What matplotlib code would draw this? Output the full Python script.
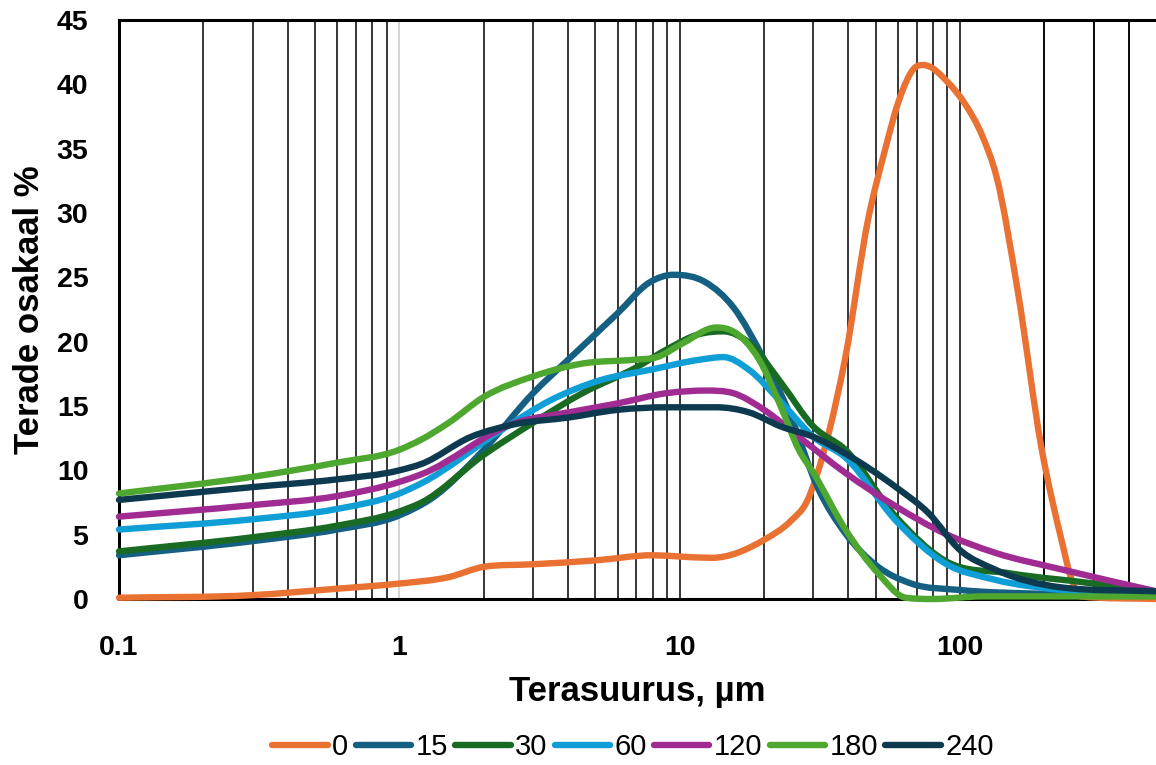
import numpy as np
import matplotlib
matplotlib.use("Agg")
import matplotlib.pyplot as plt
from matplotlib.path import Path
from matplotlib.patches import PathPatch
from matplotlib.lines import Line2D

plt.rcParams["font.family"] = ["Liberation Sans", "DejaVu Sans"]

# -----------------------------------------------------------------------------
# Data (size µm, share %)
# -----------------------------------------------------------------------------

labels = ["0", "15", "30", "60", "120", "180", "240"]
colors = ["#E97132", "#156082", "#196B24", "#0F9ED5", "#A02B93", "#4EA72E", "#0E3A50"]

x_0 = [0.1, 0.3, 0.6, 1, 1.5, 2, 3, 5, 8, 10, 13, 20, 25, 28.3, 34, 39, 47, 54, 60, 69, 74,
       91, 104, 120, 135, 161, 195, 230, 250, 270, 500]
y_0 = [0.1, 0.3, 0.8, 1.2, 1.7, 2.5, 2.7, 3.0, 3.4, 3.3, 3.2, 4.6, 6.1, 7.5, 12.9, 18.8, 29.5,
       34.9, 38.5, 41.3, 41.5, 40.1, 38.5, 36.0, 32.8, 23.8, 11.8, 4.6, 1.5, 0.2, 0.0]

x_15 = [0.1, 0.3, 0.6, 1, 1.3, 2, 3, 4, 6, 7.8, 9.5, 12.4, 15.5, 20, 25, 31, 39, 51, 67, 100, 200, 500]
y_15 = [3.4, 4.5, 5.4, 6.5, 7.8, 11.6, 16.0, 18.6, 22.2, 24.6, 25.2, 24.6, 22.7, 18.6, 14.1, 8.7,
        5.1, 2.5, 1.2, 0.7, 0.4, 0.3]

x_30 = [0.1, 0.3, 0.6, 1, 1.2, 2, 3, 4.5, 7, 9, 11.8, 14.3, 17.7, 23, 30, 39, 59, 88, 150, 300, 500]
y_30 = [3.7, 4.8, 5.7, 6.8, 7.5, 11.2, 13.7, 16.0, 18.0, 19.4, 20.6, 20.8, 19.9, 16.8, 13.4, 11.6,
        6.4, 3.0, 2.0, 1.2, 0.5]

x_60 = [0.1, 0.3, 0.6, 1, 1.2, 2.3, 3.5, 5.2, 7.8, 11.8, 14.3, 17.7, 23, 30, 39, 59, 88, 133, 230, 500]
y_60 = [5.4, 6.2, 7.0, 8.2, 9.0, 13.1, 15.5, 17.0, 17.8, 18.6, 18.8, 17.8, 15.3, 12.6, 11.0, 6.1,
        2.8, 1.5, 0.7, 0.3]

x_120 = [0.1, 0.3, 0.6, 1, 1.2, 2.6, 4, 6, 9, 12.4, 15.5, 20, 26.6, 39, 59, 88, 133, 230, 500]
y_120 = [6.4, 7.3, 8.0, 9.1, 9.7, 13.7, 14.5, 15.2, 16.0, 16.2, 16.0, 14.7, 12.6, 9.8, 7.2, 5.1,
         3.6, 2.3, 0.6]

x_180 = [0.1, 0.3, 0.6, 1, 1.2, 1.5, 2, 3, 4.5, 6.9, 8.3, 10.3, 13.5, 15.5, 19.2, 23, 26.6, 30,
         39, 51, 64, 80, 120, 500]
y_180 = [8.2, 9.5, 10.6, 11.6, 12.4, 13.7, 15.7, 17.3, 18.3, 18.6, 18.8, 19.9, 21.1, 20.8, 18.6,
         14.9, 11.6, 9.8, 5.4, 2.0, 0.1, 0.0, 0.2, 0.2]

x_240 = [0.1, 0.3, 0.6, 1, 1.2, 1.8, 2.6, 4, 6, 9, 13.5, 17.7, 23, 30, 39, 59, 77, 100, 133, 230, 500]
y_240 = [7.7, 8.7, 9.3, 10.0, 10.5, 12.6, 13.6, 14.1, 14.7, 14.9, 14.9, 14.5, 13.4, 12.6, 11.3,
         8.7, 6.7, 3.8, 2.3, 0.9, 0.6]

series_x = [x_0, x_15, x_30, x_60, x_120, x_180, x_240]
series_y = [y_0, y_15, y_30, y_60, y_120, y_180, y_240]


# -----------------------------------------------------------------------------

def smooth_path(xs, ys):
    # smoothed line through the read points: cubic Hermite segments in
    # log-x space (monotone limited), drawn as Bezier curves
    t = np.log10(np.asarray(xs, float))
    y = np.asarray(ys, float)
    n = len(t)
    h = np.diff(t)
    d = np.diff(y) / h
    m = np.zeros(n)
    m[0], m[-1] = d[0], d[-1]
    for i in range(1, n - 1):
        if d[i - 1] * d[i] <= 0:
            m[i] = 0.0
        else:
            m[i] = (d[i - 1] * h[i] + d[i] * h[i - 1]) / (h[i - 1] + h[i])
            lim = 3 * min(abs(d[i - 1]), abs(d[i]))
            m[i] = np.sign(m[i]) * min(abs(m[i]), lim)
    verts = [(t[0], y[0])]
    codes = [Path.MOVETO]
    for i in range(n - 1):
        verts += [(t[i] + h[i] / 3, y[i] + m[i] * h[i] / 3),
                  (t[i + 1] - h[i] / 3, y[i + 1] - m[i + 1] * h[i] / 3),
                  (t[i + 1], y[i + 1])]
        codes += [Path.CURVE4] * 3
    verts = np.array(verts)
    verts[:, 0] = 10 ** verts[:, 0]
    return Path(verts, codes)


fig = plt.figure(figsize=(11.56, 7.65), dpi=100)
ax = fig.add_axes([119 / 1156, 1 - 599 / 765, 1 - 119 / 1156, (599 - 20) / 765])

ax.set_xscale("log")
ax.set_xlim(0.1, 500)
ax.set_ylim(0, 45)

# vertical grid: black at minor positions, light grey at 1
grid_x = [m * 10.0 ** e for e in range(-1, 3) for m in range(1, 10)]
grid_x += [200, 300, 400]
for gx in grid_x:
    if gx <= 0.1 or gx >= 500:
        continue
    col = "#C8C8C8" if abs(gx - 1) < 1e-9 else "black"
    ax.axvline(gx, color=col, lw=1.1, zorder=1)

for xs, ys, c in zip(series_x, series_y, colors):
    ax.add_patch(PathPatch(smooth_path(xs, ys), facecolor="none", edgecolor=c,
                           lw=4.6, capstyle="round", joinstyle="round",
                           zorder=3, clip_on=False))

for side in ["left", "bottom", "top"]:
    ax.spines[side].set_linewidth(2.2)
    ax.spines[side].set_color("black")
ax.spines["right"].set_visible(False)

ax.set_yticks(range(0, 46, 5))
ax.set_xticks([0.1, 1, 10, 100])
ax.set_xticklabels(["0.1", "1", "10", "100"])
ax.xaxis.set_minor_locator(matplotlib.ticker.NullLocator())
ax.tick_params(axis="both", length=0, labelsize=20.5)
ax.tick_params(axis="x", pad=26)
ax.tick_params(axis="y", pad=22)
for lab in ax.get_xticklabels() + ax.get_yticklabels():
    lab.set_fontweight("bold")

ax.set_xlabel("Terasuurus, µm", fontsize=25, fontweight="bold", labelpad=10)
ax.set_ylabel("Terade osakaal %", fontsize=25, fontweight="bold", labelpad=8)

handles = [Line2D([0], [0], color=c, lw=4.6, solid_capstyle="round") for c in colors]
fig.legend(handles, labels, loc="center", bbox_to_anchor=(633 / 1156, 1 - 747 / 765),
           ncol=7, frameon=False, fontsize=21, handlelength=1.9,
           handletextpad=0.15, columnspacing=0.25)

fig.savefig("out.png", dpi=100)
